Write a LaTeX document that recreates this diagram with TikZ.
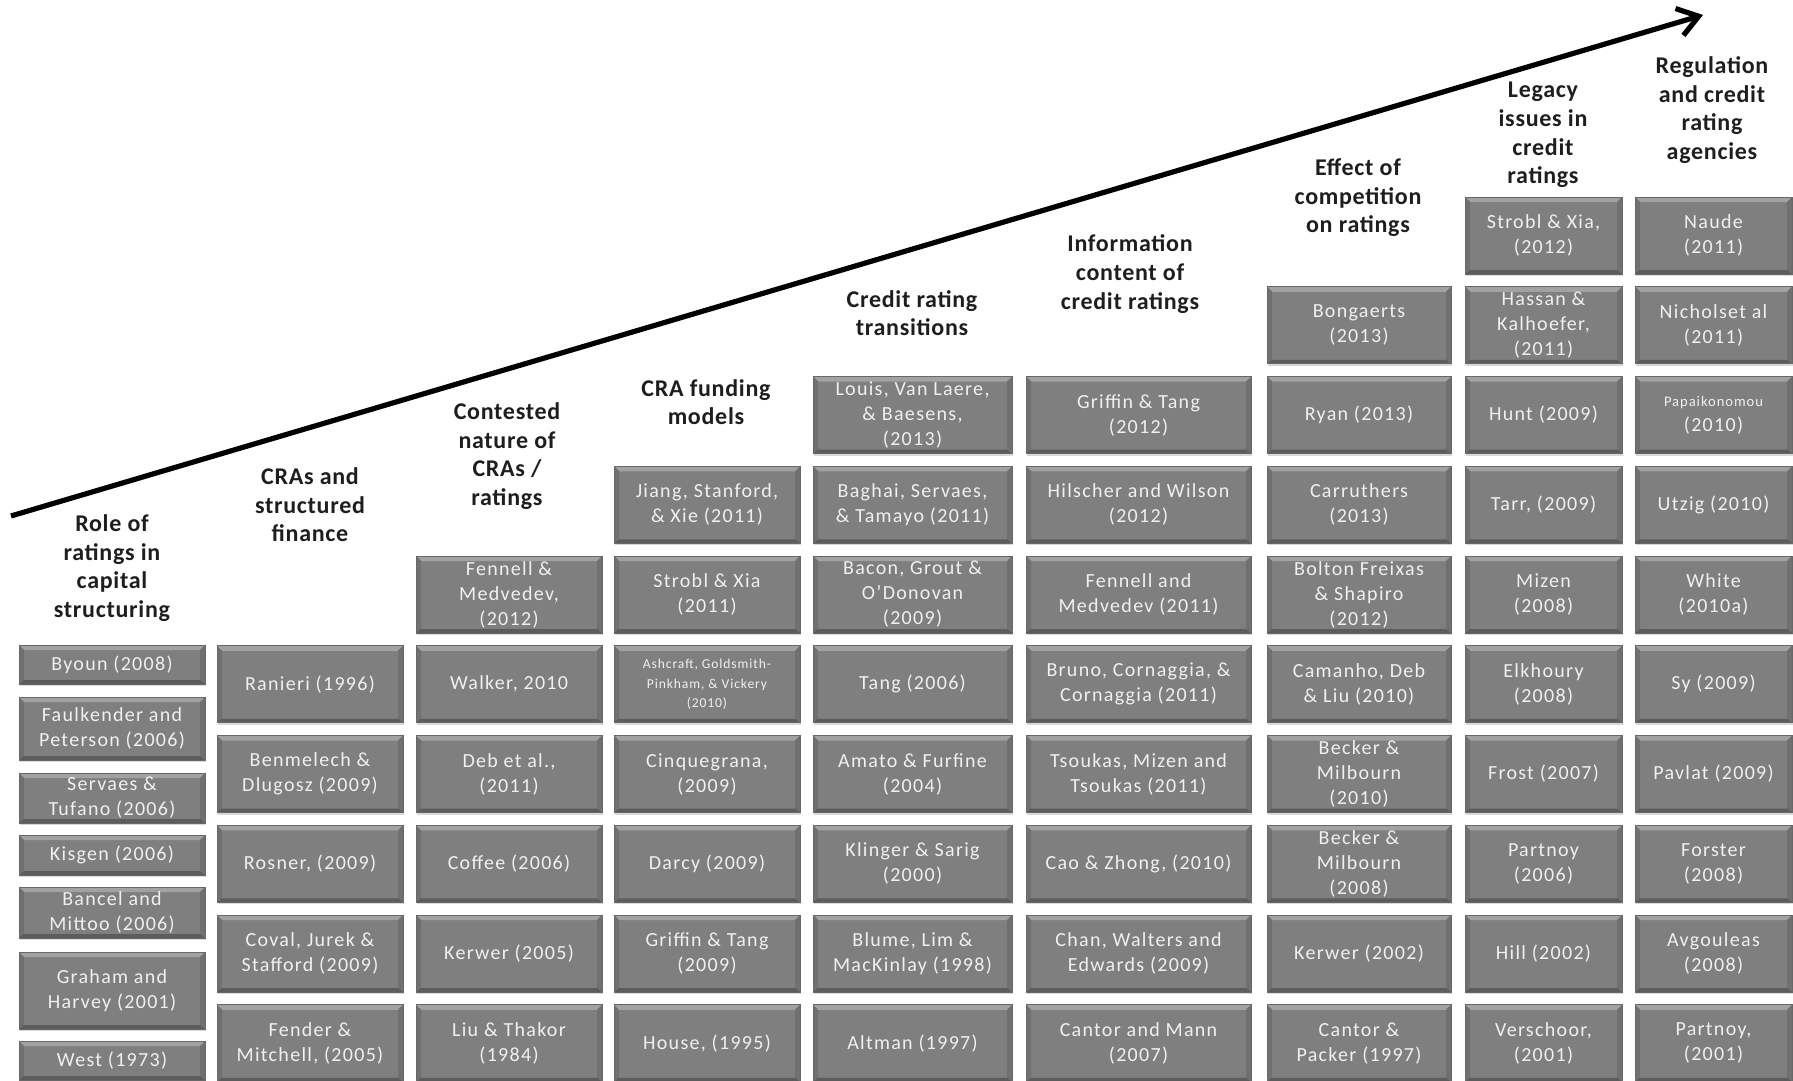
\documentclass[tikz,border=0pt]{standalone}
\usepackage{fontspec}
\setmainfont{Carlito}
\newfontfamily\cellfont[LetterSpace=6.5]{Carlito}
\newfontfamily\headfont[LetterSpace=3]{Carlito}
\usetikzlibrary{arrows.meta,shadows}

\definecolor{cellface}{HTML}{7F7F7F}
\definecolor{cellhi}{HTML}{A2A2A2}
\definecolor{cellside}{HTML}{707070}
\definecolor{celllo}{HTML}{5C5C5C}
\definecolor{cellrim}{HTML}{686868}
\definecolor{celltext}{HTML}{F0F0F0}
\definecolor{headink}{HTML}{1E1E1E}

\tikzset{
  refcell/.style={
    draw=cellrim, line width=0.4pt, fill=cellface, inner sep=0pt,
    align=center, text=celltext,
    font=\cellfont\fontsize{10}{12.5}\selectfont,
    drop shadow={shadow xshift=0.5pt, shadow yshift=-1pt, opacity=0.3},
    path picture={
      \fill[cellhi] (path picture bounding box.north west) -- (path picture bounding box.north east)
        -- ([xshift=-2.5pt,yshift=-2.5pt]path picture bounding box.north east)
        -- ([xshift=2.5pt,yshift=-2.5pt]path picture bounding box.north west) -- cycle;
      \fill[cellside] (path picture bounding box.north west)
        -- ([xshift=2.5pt,yshift=-2.5pt]path picture bounding box.north west)
        -- ([xshift=2.5pt,yshift=2pt]path picture bounding box.south west)
        -- (path picture bounding box.south west) -- cycle;
      \fill[cellside] (path picture bounding box.north east)
        -- ([xshift=-2.5pt,yshift=-2.5pt]path picture bounding box.north east)
        -- ([xshift=-2.5pt,yshift=2pt]path picture bounding box.south east)
        -- (path picture bounding box.south east) -- cycle;
      \fill[celllo] (path picture bounding box.south west)
        -- ([xshift=2.5pt,yshift=2pt]path picture bounding box.south west)
        -- ([xshift=-2.5pt,yshift=2pt]path picture bounding box.south east)
        -- (path picture bounding box.south east) -- cycle;
    }},
  head/.style={align=center, text=headink, inner sep=0pt,
    font=\headfont\bfseries\fontsize{12}{14.3}\selectfont},
  trend/.style={line width=2.6pt, black,
    -{Straight Barb[length=10pt,width=14pt]}},
}

% a cell given by its edges: name, left, right, top, bottom, text
\newcommand\refbox[6]{%
  \node[refcell, minimum width={(#3-#2)*0.5pt}, minimum height={(#5-#4)*0.5pt}]
    (#1) at ({(#2+#3)/2},{(#4+#5)/2}) {#6};}
% a cell on the common row grid: name, left, right, row, text
\newcommand\gbox[5]{%
  \pgfmathsetmacro\gtop{197+89.75*#4}%
  \pgfmathsetmacro\gbot{\gtop+77}%
  \refbox{#1}{#2}{#3}{\gtop}{\gbot}{#5}}
\newcommand\smallcell{\fontsize{6.8}{9.5}\selectfont}

\begin{document}
\begin{tikzpicture}[x=0.5pt,y=-0.5pt]
\useasboundingbox[fill=white] (0,0) rectangle (1793,1081);

% rising trend line
\coordinate (tail) at (11,516);
\coordinate (tip) at (1703,15);
\draw[trend] (tail) -- (tip);

% column headings
\node[head] (h1) at (112,568) {Role of\\ratings in\\capital\\structuring};
\node[head] (h2) at (310,505) {CRAs and\\structured\\finance};
\node[head] (h3) at (507,456) {Contested\\nature of\\CRAs /\\ratings};
\node[head] (h4) at (706,402) {CRA funding\\models};
\node[head] (h5) at (912,313) {Credit rating\\transitions};
\node[head] (h6) at (1130,274) {Information\\content of\\credit ratings};
\node[head] (h7) at (1358,198) {Effect of\\competition\\on ratings};
\node[head] (h8) at (1543,135) {Legacy\\issues in\\credit\\ratings};
\node[head] (h9) at (1712,110) {Regulation\\and credit\\rating\\agencies};

% role of ratings in capital structuring
\refbox{a1}{19}{205}{645}{684}{Byoun (2008)}
\refbox{a2}{19}{205}{697}{760}{Faulkender and\\Peterson (2006)}
\refbox{a3}{19}{205}{773}{823}{Servaes \&\\Tufano (2006)}
\refbox{a4}{19}{205}{835}{875}{Kisgen (2006)}
\refbox{a5}{19}{205}{887}{938}{Bancel and\\Mittoo (2006)}
\refbox{a6}{19}{205}{952}{1029}{Graham and\\Harvey (2001)}
\refbox{a7}{19}{205}{1041}{1080}{West (1973)}

% CRAs and structured finance
\gbox{b1}{217}{403}{5}{Ranieri (1996)}
\gbox{b2}{217}{403}{6}{Benmelech \&\\Dlugosz (2009)}
\gbox{b3}{217}{403}{7}{Rosner, (2009)}
\gbox{b4}{217}{403}{8}{Coval, Jurek \&\\Stafford (2009)}
\gbox{b5}{217}{403}{9}{Fender \&\\Mitchell, (2005)}

% contested nature of CRAs / ratings
\gbox{c1}{416}{602}{4}{Fennell \&\\Medvedev,\\(2012)}
\gbox{c2}{416}{602}{5}{Walker, 2010}
\gbox{c3}{416}{602}{6}{Deb et al.,\\(2011)}
\gbox{c4}{416}{602}{7}{Coffee (2006)}
\gbox{c5}{416}{602}{8}{Kerwer (2005)}
\gbox{c6}{416}{602}{9}{Liu \& Thakor\\(1984)}

% CRA funding models
\gbox{d1}{614}{800}{3}{Jiang, Stanford,\\\& Xie (2011)}
\gbox{d2}{614}{800}{4}{Strobl \& Xia\\(2011)}
\gbox{d3}{614}{800}{5}{\smallcell Ashcraft, Goldsmith-\\[-2.8pt]\smallcell Pinkham, \& Vickery\\[-2.8pt]\smallcell (2010)}
\gbox{d4}{614}{800}{6}{Cinquegrana,\\(2009)}
\gbox{d5}{614}{800}{7}{Darcy (2009)}
\gbox{d6}{614}{800}{8}{Griffin \& Tang\\(2009)}
\gbox{d7}{614}{800}{9}{House, (1995)}

% credit rating transitions
\gbox{e1}{813}{1012}{2}{Louis, Van Laere,\\\& Baesens,\\(2013)}
\gbox{e2}{813}{1012}{3}{Baghai, Servaes,\\\& Tamayo (2011)}
\gbox{e3}{813}{1012}{4}{Bacon, Grout \&\\O’Donovan\\(2009)}
\gbox{e4}{813}{1012}{5}{Tang (2006)}
\gbox{e5}{813}{1012}{6}{Amato \& Furfine\\(2004)}
\gbox{e6}{813}{1012}{7}{Klinger \& Sarig\\(2000)}
\gbox{e7}{813}{1012}{8}{Blume, Lim \&\\MacKinlay (1998)}
\gbox{e8}{813}{1012}{9}{Altman (1997)}

% information content of credit ratings
\gbox{f1}{1026}{1251}{2}{Griffin \& Tang\\(2012)}
\gbox{f2}{1026}{1251}{3}{Hilscher and Wilson\\(2012)}
\gbox{f3}{1026}{1251}{4}{Fennell and\\Medvedev (2011)}
\gbox{f4}{1026}{1251}{5}{Bruno, Cornaggia, \&\\Cornaggia (2011)}
\gbox{f5}{1026}{1251}{6}{Tsoukas, Mizen and\\Tsoukas (2011)}
\gbox{f6}{1026}{1251}{7}{Cao \& Zhong, (2010)}
\gbox{f7}{1026}{1251}{8}{Chan, Walters and\\Edwards (2009)}
\gbox{f8}{1026}{1251}{9}{Cantor and Mann\\(2007)}

% effect of competition on ratings
\gbox{g1}{1267}{1451}{1}{Bongaerts\\(2013)}
\gbox{g2}{1267}{1451}{2}{Ryan (2013)}
\gbox{g3}{1267}{1451}{3}{Carruthers\\(2013)}
\gbox{g4}{1267}{1451}{4}{Bolton Freixas\\\& Shapiro\\(2012)}
\gbox{g5}{1267}{1451}{5}{Camanho, Deb\\\& Liu (2010)}
\gbox{g6}{1267}{1451}{6}{Becker \&\\Milbourn\\(2010)}
\gbox{g7}{1267}{1451}{7}{Becker \&\\Milbourn\\(2008)}
\gbox{g8}{1267}{1451}{8}{Kerwer (2002)}
\gbox{g9}{1267}{1451}{9}{Cantor \&\\Packer (1997)}

% legacy issues in credit ratings
\gbox{k0}{1465}{1622}{0}{Strobl \& Xia,\\(2012)}
\gbox{k1}{1465}{1622}{1}{Hassan \&\\Kalhoefer,\\(2011)}
\gbox{k2}{1465}{1622}{2}{Hunt (2009)}
\gbox{k3}{1465}{1622}{3}{Tarr, (2009)}
\gbox{k4}{1465}{1622}{4}{Mizen\\(2008)}
\gbox{k5}{1465}{1622}{5}{Elkhoury\\(2008)}
\gbox{k6}{1465}{1622}{6}{Frost (2007)}
\gbox{k7}{1465}{1622}{7}{Partnoy\\(2006)}
\gbox{k8}{1465}{1622}{8}{Hill (2002)}
\gbox{k9}{1465}{1622}{9}{Verschoor,\\(2001)}

% regulation and credit rating agencies
\gbox{r0}{1635}{1792}{0}{Naude\\(2011)}
\gbox{r1}{1635}{1792}{1}{Nicholset al\\(2011)}
\gbox{r2}{1635}{1792}{2}{{\fontsize{7.3}{9}\selectfont Papaikonomou}\\(2010)}
\gbox{r3}{1635}{1792}{3}{Utzig (2010)}
\gbox{r4}{1635}{1792}{4}{White\\(2010a)}
\gbox{r5}{1635}{1792}{5}{Sy (2009)}
\gbox{r6}{1635}{1792}{6}{Pavlat (2009)}
\gbox{r7}{1635}{1792}{7}{Forster\\(2008)}
\gbox{r8}{1635}{1792}{8}{Avgouleas\\(2008)}
\gbox{r9}{1635}{1792}{9}{Partnoy,\\(2001)}
\end{tikzpicture}
\end{document}
